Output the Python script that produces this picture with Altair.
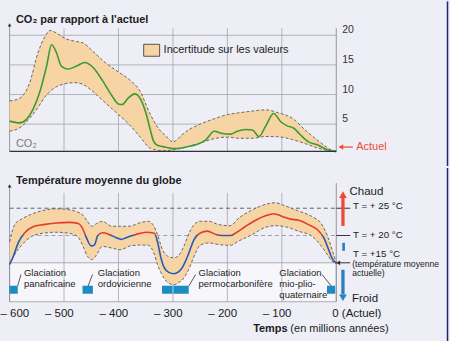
import altair as alt
import pandas as pd

# ---------------- data ----------------
# CO2 relative to present (top panel)
co2_t = [-600, -581, -569, -557, -545, -532, -523, -514, -505, -493, -477, -462, -447, -429,
         -412, -400, -393, -383, -370, -360, -350, -342, -336, -330, -322, -313, -300, -282,
         -267, -255, -240, -224, -209, -194, -184, -166, -154, -142, -130, -115, -102, -90,
         -78, -66, -51, -35, -20, -8, 0]
co2_v = [5.5, 5.2, 5.8, 7.5, 10.3, 14.8, 18.4, 17.1, 14.8, 14.3, 14.8, 15.4, 14.6, 12.3,
         9.8, 8.4, 8.3, 9.3, 10.1, 9.3, 7.0, 4.2, 2.2, 1.5, 1.25, 1.1, 0.85, 1.0,
         1.3, 1.6, 2.3, 3.8, 3.4, 3.3, 3.7, 4.1, 4.0, 2.9, 4.6, 6.8, 5.4, 4.7,
         4.3, 3.2, 2.0, 1.5, 0.8, 0.45, 0.35]

co2_band_t = [-600, -581, -563, -548, -535, -526, -514, -499, -480, -465, -447, -423, -400,
              -380, -360, -343, -325, -313, -300, -282, -270, -252, -221, -200, -179, -154,
              -130, -106, -81, -57, -32, -8, 0]
co2_hi = [8.9, 9.4, 12.0, 17.0, 19.8, 20.8, 20.4, 19.5, 19.0, 18.7, 17.3, 15.3, 13.8,
          12.5, 10.5, 6.9, 4.1, 3.0, 2.0, 3.3, 4.1, 4.9, 6.0, 6.6, 6.9, 7.2,
          7.4, 6.9, 6.0, 4.0, 2.1, 0.6, 0.4]
co2_lo = [3.8, 4.4, 6.0, 7.8, 9.6, 10.5, 11.3, 11.8, 12.0, 11.7, 10.5, 8.5, 6.6,
          4.9, 2.8, 1.0, 0.55, 0.5, 0.65, 0.95, 1.25, 1.75, 2.6, 2.8, 2.6, 2.6,
          2.9, 2.85, 2.4, 1.7, 0.9, 0.45, 0.35]

# Mean global temperature (bottom panel)
temp_t = [-600, -593, -584, -572, -557, -538, -514, -490, -474, -465, -459, -450, -444,
          -438, -429, -417, -404, -395, -386, -368, -349, -334, -328, -322, -316, -307,
          -298, -285, -273, -261, -249, -237, -221, -209, -194, -184, -166, -148, -130,
          -115, -99, -84, -69, -51, -35, -23, -14, -8, -2, 0]
temp_v = [14.7, 16.2, 18.7, 20.5, 21.6, 22.0, 22.3, 22.4, 22.2, 21.1, 19.6, 18.1, 18.3,
          20.0, 20.5, 20.2, 19.6, 19.3, 19.6, 20.2, 20.6, 20.4, 18.7, 15.9, 14.1, 13.2,
          13.0, 13.8, 16.2, 19.3, 20.5, 20.8, 20.2, 20.0, 20.0, 20.5, 21.7, 22.8, 23.6,
          24.0, 23.5, 23.0, 22.8, 22.0, 21.1, 19.6, 17.4, 15.9, 15.1, 14.9]

temp_band_t = [-600, -590, -578, -560, -540, -515, -490, -475, -465, -457, -449, -440, -430,
               -412, -396, -380, -362, -345, -335, -328, -320, -312, -304, -298, -290, -280,
               -270, -262, -250, -234, -216, -195, -178, -155, -130, -112, -93, -70, -45,
               -27, -15, -8, 0]
temp_hi = [18.8, 22.1, 23.0, 23.9, 24.55, 24.9, 24.7, 24.3, 23.7, 22.6, 21.7, 22.2, 22.6,
           21.7, 21.7, 21.7, 22.3, 22.6, 21.7, 20.1, 17.6, 16.4, 16.0, 15.9, 16.3, 18.0,
           20.5, 21.9, 22.6, 22.6, 22.0, 21.8, 23.3, 24.65, 25.7, 26.0, 25.4, 24.5, 23.5,
           22.1, 19.6, 17.5, 15.0]
temp_lo = [14.7, 16.6, 18.2, 19.8, 20.4, 20.6, 20.4, 19.8, 18.0, 16.2, 15.6, 16.5, 18.0,
           17.7, 17.4, 18.05, 18.25, 18.2, 16.8, 14.6, 12.8, 11.6, 11.1, 11.0, 11.3, 12.2,
           14.0, 16.0, 18.2, 18.65, 18.35, 18.2, 19.05, 20.15, 21.5, 21.8, 21.6, 20.8, 19.9,
           18.0, 16.3, 15.3, 15.0]

x_ticks = [-600, -500, -400, -300, -200, -100, 0]
x_tick_labels = ["– 600", "– 500", "– 400", "– 300", "– 200", "– 100", "0 (Actuel)"]
co2_ticks = [5, 10, 15, 20]
temp_refs = [25, 20, 15]
temp_ref_labels = ["T = + 25 °C", "T = + 20 °C", "T = +15 °C"]
warm_threshold = 20.15

glac_start = [-600, -466, -320, -17]
glac_end = [-585, -447, -271, -2]
glac_names = [["Glaciation", "panafricaine"], ["Glaciation", "ordovicienne"],
              ["Glaciation", "permocarbonifère"], ["Glaciation", "mio-plio-", "quaternaire"]]

# ---------------- styles ----------------
FONT = "Liberation Sans"
BG = "#edeef6"
TAN = "#f6d4a4"
GRID = "#a4a4ac"
TXT = "#1c1c1c"
GREEN = "#3c9a36"
RED = "#e8392a"
BLUE = "#2558b8"
BAR = "#1d8cc3"
ARROW_RED = "#ee4a36"
ARROW_BLUE = "#2b7fc1"
NAVY = "#1b2a6b"

XS = alt.Scale(domain=[-615.76, 208.87], nice=False, zero=False)
YC = alt.Scale(domain=[-2.08, 25.73], nice=False, zero=False)
YT = alt.Scale(domain=[0.19, 32.37], nice=False, zero=False)


def ex(f="t"):
    return alt.X(f"{f}:Q", scale=XS, axis=None)


def ey(scale, f="v"):
    return alt.Y(f"{f}:Q", scale=scale, axis=None)


def texts(rows, scale, **kw):
    df = pd.DataFrame(rows, columns=["t", "v", "s"])
    props = dict(font=FONT, align="left", baseline="middle", fontSize=11, color=TXT)
    props.update(kw)
    return alt.Chart(df).mark_text(**props).encode(x=ex(), y=ey(scale), text="s:N")


def segs(rows, scale, **kw):
    df = pd.DataFrame(rows, columns=["t", "v", "t2", "v2"])
    return alt.Chart(df).mark_rule(**kw).encode(x=ex(), y=ey(scale), x2="t2:Q", y2="v2:Q")


def pts(rows, scale, **kw):
    df = pd.DataFrame(rows, columns=["t", "v"])
    props = dict(filled=True, opacity=1, strokeWidth=0)
    props.update(kw)
    return alt.Chart(df).mark_point(**props).encode(x=ex(), y=ey(scale))


# ---------------- top panel ----------------
df_co2 = pd.DataFrame({"t": co2_t, "v": co2_v})
df_cb = pd.DataFrame({"t": co2_band_t, "hi": co2_hi, "lo": co2_lo})

top_layers = [
    segs([(x, 21.2, x, 0.38) for x in x_ticks[1:-1]], YC, color=GRID, strokeWidth=0.8),
    segs([(-600, 21.7, -600, 0.38), (0, 21.2, 0, 0.38)], YC, color="#8c8c94", strokeWidth=0.9),
    segs([(-600, c, 0, c) for c in co2_ticks], YC, color=GRID, strokeWidth=0.8),
    alt.Chart(df_cb).mark_area(color=TAN, interpolate="monotone").encode(
        x=ex(), y=ey(YC, "hi"), y2="lo:Q"),
    alt.Chart(df_cb).mark_line(color="#5a5a5a", strokeWidth=0.9, strokeDash=[3, 2],
                               interpolate="monotone").encode(x=ex(), y=ey(YC, "hi")),
    alt.Chart(df_cb).mark_line(color="#5a5a5a", strokeWidth=0.9, strokeDash=[3, 2],
                               interpolate="monotone").encode(x=ex(), y=ey(YC, "lo")),
    alt.Chart(df_co2).mark_line(color=GREEN, strokeWidth=1.6,
                                interpolate="monotone").encode(x=ex(), y=ey(YC)),
    segs([(-600, 0.38, 0, 0.38)], YC, color="#333333", strokeWidth=1.3),
    texts([(10.9, c, str(c)) for c in co2_ticks], YC, dy=-5, fontSize=10.5, color="#333333"),
    texts([(-588.3, 22.53, "CO₂ par rapport à l'actuel")], YC, fontWeight="bold", fontSize=11),
    alt.Chart(pd.DataFrame({"t": [-353.7], "t2": [-324.4], "v": [18.48], "v2": [16.46]}))
    .mark_rect(fill=TAN, stroke="#444444", strokeWidth=0.9)
    .encode(x=ex(), x2="t2:Q", y=ey(YC), y2="v2:Q"),
    texts([(-317.1, 17.47, "Incertitude sur les valeurs")], YC, fontSize=11),
    texts([(-588.3, 1.71, "CO₂")], YC, fontSize=11, color="#7a7a7a"),
    texts([(36.6, 1.12, "Actuel")], YC, fontSize=11, color=ARROW_RED),
    segs([(9.5, 1.12, 30.6, 1.12)], YC, color=ARROW_RED, strokeWidth=1.2),
    pts([(8.5, 1.12)], YC, shape="triangle-left", size=30, color=ARROW_RED),
    pts([(-600, 21.75)], YC, shape="triangle-up", size=14, color="#333333"),
    segs([(204.3, 25.73, 204.3, -2.08)], YC, color=NAVY, strokeWidth=1.5),
]
top = alt.layer(*top_layers).properties(width=450, height=165)

# ---------------- bottom panel ----------------
df_temp = pd.DataFrame({"t": temp_t, "v": temp_v})
df_tb = pd.DataFrame({"t": temp_band_t, "hi": temp_hi, "lo": temp_lo})
t_max, t_min = max(temp_v), min(temp_v)
cut = (t_max - warm_threshold) / (t_max - t_min)
temp_stroke = alt.Gradient(
    gradient="linear", x1=0, y1=0, x2=0, y2=1,
    stops=[alt.GradientStop(offset=0, color=RED), alt.GradientStop(offset=cut, color=RED),
           alt.GradientStop(offset=cut, color=BLUE), alt.GradientStop(offset=1, color=BLUE)])

df_bars = pd.DataFrame({"t": glac_start, "t2": glac_end, "v": [10.8] * 4, "v2": [9.33] * 4})

label_x = [-573.6, -438.0, -252.9, -104.5]
label_rows = []
for lx, lines in zip(label_x, glac_names):
    for i, line in enumerate(lines):
        label_rows.append((lx, 13.17 - i * 2.08, line))

leaders = [(-579.1, 12.86, -585.2, 10.74), (-447.7, 12.86, -455.8, 10.74),
           (-258.4, 12.86, -270.7, 10.74), (-26.2, 12.86, -9.2, 10.74)]

bottom_layers = [
    alt.Chart(pd.DataFrame({"t": [-600], "t2": [0], "v": [15], "v2": [7.87]}))
    .mark_rect(fill="#f7f7fb", stroke="#9a9aa2", strokeWidth=0.8)
    .encode(x=ex(), x2="t2:Q", y=ey(YT), y2="v2:Q"),
    segs([(x, 27.8, x, 7.87) for x in x_ticks[1:-1]], YT, color=GRID, strokeWidth=0.8),
    segs([(-600, 29.1, -600, 7.87), (0, 29.6, 0, 7.87)], YT, color="#8c8c94", strokeWidth=0.9),
    segs([(-600, 25, 0, 25)], YT, color="#555555", strokeWidth=0.9, strokeDash=[4, 3]),
    segs([(-600, 20, 0, 20)], YT, color="#8a8a90", strokeWidth=0.8, strokeDash=[4, 3]),
    segs([(0, r, 25.6, r) for r in temp_refs], YT, color="#333333", strokeWidth=1.0),
    alt.Chart(df_tb).mark_area(color=TAN, interpolate="monotone").encode(
        x=ex(), y=ey(YT, "hi"), y2="lo:Q"),
    alt.Chart(df_tb).mark_line(color="#5a5a5a", strokeWidth=0.9, strokeDash=[3, 2],
                               interpolate="monotone").encode(x=ex(), y=ey(YT, "hi")),
    alt.Chart(df_tb).mark_line(color="#5a5a5a", strokeWidth=0.9, strokeDash=[3, 2],
                               interpolate="monotone").encode(x=ex(), y=ey(YT, "lo")),
    alt.Chart(df_temp).mark_line(stroke=temp_stroke, strokeWidth=1.6,
                                 interpolate="monotone").encode(x=ex(), y=ey(YT)),
    alt.Chart(df_bars).mark_rect(color=BAR).encode(x=ex(), x2="t2:Q", y=ey(YT), y2="v2:Q"),
    segs([(-300, 10.8, -300, 9.33)], YT, color="#cfe3ee", strokeWidth=0.8),
    segs(leaders, YT, color="#333333", strokeWidth=0.8),
    texts(label_rows, YT, fontSize=9.5),
    texts([(-588.3, 29.99, "Température moyenne du globe")], YT, fontWeight="bold", fontSize=11),
    pts([(-600, 29.1)], YT, shape="triangle-up", size=14, color="#333333"),
    # warm / cold arrows
    segs([(12.25, 21.76, 12.25, 26.9)], YT, color=ARROW_RED, strokeWidth=3.3),
    pts([(12.25, 27.5)], YT, shape="triangle-up", size=60, color=ARROW_RED),
    segs([(12.25, 13.72, 12.25, 9.2)], YT, color=ARROW_BLUE, strokeWidth=3.3),
    pts([(12.25, 8.6)], YT, shape="triangle-down", size=60, color=ARROW_BLUE),
    alt.Chart(pd.DataFrame({"t": [11.0], "t2": [15.9], "v": [18.66], "v2": [17.2]}))
    .mark_rect(color=ARROW_BLUE).encode(x=ex(), x2="t2:Q", y=ey(YT), y2="v2:Q"),
    pts([(3.5, 15)], YT, shape="triangle-left", size=22, color="#333333"),
    texts([(24.4, 27.93, "Chaud")], YT, fontSize=11.5),
    texts([(28.7, 8.42, "Froid")], YT, fontSize=11.5),
    texts([(30.6, 25.37, temp_ref_labels[0]), (30.6, 20.12, temp_ref_labels[1]),
           (30.6, 16.52, temp_ref_labels[2])], YT, fontSize=9.8),
    texts([(29.3, 14.82, "(température moyenne"), (29.3, 13.17, "actuelle)")], YT, fontSize=8.6),
    # x axis labels
    texts([(x_ticks[0], 5.55, x_tick_labels[0])], YT, align="right", dx=19.7, fontSize=11.5),
    texts([(x, 5.55, s) for x, s in zip(x_ticks[1:-1], x_tick_labels[1:-1])], YT,
          align="right", dx=9.7, fontSize=11.5),
    texts([(x_ticks[-1], 5.55, x_tick_labels[-1])], YT, dx=-4, fontSize=11.5),
    texts([(-152.7, 2.93, "Temps")], YT, fontWeight="bold", fontSize=11),
    texts([(-84.3, 2.93, "(en millions années)")], YT, fontSize=11),
    segs([(204.3, 32.37, 204.3, 0.19)], YT, color=NAVY, strokeWidth=1.5),
]
bottom = alt.layer(*bottom_layers).properties(width=450, height=176)

chart = (
    alt.vconcat(top, bottom, spacing=0)
    .properties(padding=0, background=BG)
    .configure_view(stroke=None, fill=BG)
)

chart.save("out.html", embed_options={"renderer": "svg", "actions": False})
